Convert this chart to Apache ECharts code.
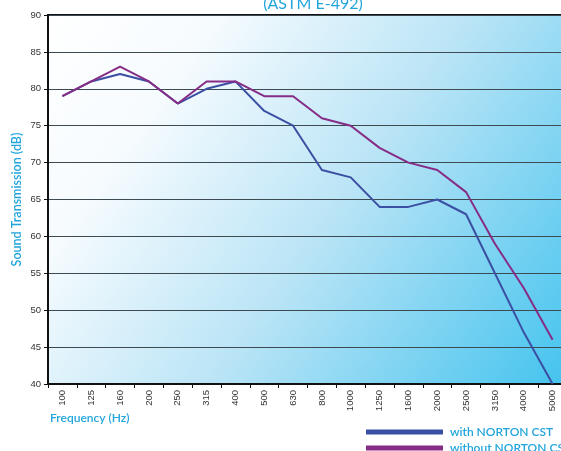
<!DOCTYPE html>
<html>
<head>
<meta charset="utf-8">
<script src="https://cdn.jsdelivr.net/npm/echarts@6/dist/echarts.min.js"></script>
<style>
  html, body { margin: 0; padding: 0; background: #fff; }
  #main { width: 561px; height: 451px; }
</style>
</head>
<body>
<div id="main"></div>
<script>
// 频率（Hz）
var freqList = ['100', '125', '160', '200', '250', '315', '400', '500', '630', '800',
  '1000', '1250', '1600', '2000', '2500', '3150', '4000', '5000'];
var withNorton = [79, 81, 82, 81, 78, 80, 81, 77, 75, 69, 68, 64, 64, 65, 63, 55, 47, 40];
var withoutNorton = [79, 81, 83, 81, 78, 81, 81, 79, 79, 76, 75, 72, 70, 69, 66, 59, 53, 46];
var seriesNames = ['with NORTON CST', 'without NORTON CST'];

var blueText = '#22a5dd';
var myChart = echarts.init(document.getElementById('main'));

// 图例样式，两条分开放
function makeLegend(name, top) {
    return {
        data: [name],
        left: 366,
        top: top,
        itemWidth: 77,
        itemHeight: 5,
        icon: 'rect',
        padding: 0,
        textStyle: { color: blueText, fontSize: 12, fontWeight: 600, fontFamily: 'Lato', padding: [0, 0, 0, 2] }
    };
}

var option = {
    animation: false,
    title: {
        text: '(ASTM E-492)',
        left: 308,
        top: -9,
        textAlign: 'center',
        textStyle: { color: blueText, fontSize: 16, fontWeight: 'normal', fontFamily: 'Lato' }
    },
    legend: [makeLegend(seriesNames[0], 426), makeLegend(seriesNames[1], 442)],
    graphic: [{
        type: 'text',
        left: 50,
        top: 412,
        style: { text: 'Frequency (Hz)', fill: blueText, fontSize: 12, fontWeight: 600, fontFamily: 'Lato' }
    }],
    grid: {
        left: 48,
        top: 15,
        right: -6,
        bottom: 67,
        outerBoundsMode: 'none',
        show: true,
        borderWidth: 2,
        borderColor: '#111',
        backgroundColor: new echarts.graphic.LinearGradient(0, 0, 1, 1, [
            { offset: 0, color: '#ffffff' },
            { offset: 0.22, color: '#f6fbfe' },
            { offset: 0.55, color: '#b9e4f6' },
            { offset: 1, color: '#43c3ee' }
        ])
    },
    xAxis: {
        type: 'category',
        data: freqList,
        boundaryGap: true,
        axisLine: { lineStyle: { color: '#111', width: 2 } },
        axisTick: { show: true, length: 4, lineStyle: { color: '#111' } },
        axisLabel: { rotate: 90, fontSize: 9.5, color: '#333', fontFamily: 'Liberation Sans', margin: 6 }
    },
    yAxis: {
        type: 'value',
        min: 40,
        max: 90,
        interval: 5,
        name: 'Sound Transmission (dB)',
        nameLocation: 'middle',
        nameGap: 25,
        nameMoveOverlap: false,
        nameTextStyle: { color: blueText, fontSize: 12.5, fontWeight: 600, fontFamily: 'Lato' },
        axisLine: { show: true, lineStyle: { color: '#111', width: 2 } },
        axisTick: { show: true, length: 4, lineStyle: { color: '#111' } },
        axisLabel: { fontSize: 9.5, color: '#333', fontFamily: 'Liberation Sans', margin: 7 },
        splitLine: { show: true, lineStyle: { color: '#3d4a52', width: 1 } }
    },
    series: [
        {
            name: seriesNames[0],
            type: 'line',
            data: withNorton,
            showSymbol: false,
            symbol: 'none',
            lineStyle: { color: '#3b4fa3', width: 2 },
            itemStyle: { color: '#3b4fa3' }
        },
        {
            name: seriesNames[1],
            type: 'line',
            data: withoutNorton,
            showSymbol: false,
            symbol: 'none',
            lineStyle: { color: '#862c86', width: 2 },
            itemStyle: { color: '#862c86' }
        }
    ]
};
myChart.setOption(option);
</script>
</body>
</html>
